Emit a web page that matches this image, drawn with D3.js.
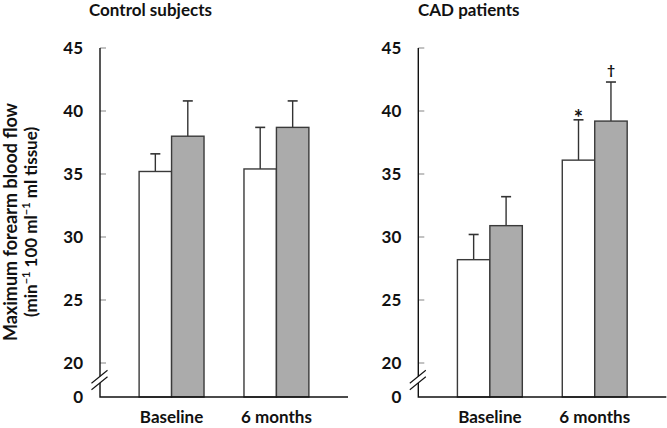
<!DOCTYPE html>
<html><head><meta charset="utf-8">
<script src="https://cdn.jsdelivr.net/npm/d3@7"></script>
<style>
body{margin:0;background:#fff;}
svg text{font-family:Lato,"Open Sans",sans-serif;font-weight:bold;fill:#111;}
</style></head>
<body><svg id="chart" width="667" height="428"></svg>
<script>
// ---- data ----
const panels = ["Control subjects", "CAD patients"];
const categories = ["Baseline", "6 months"];
const series = ["open", "shaded"];
const yTicks = [20, 25, 30, 35, 40, 45];
// means [panel][category]
const openMean   = [[35.2, 35.4], [28.2, 36.1]];
const openErr    = [[1.4, 3.3],  [2.0, 3.2]];
const shadedMean = [[38.0, 38.7], [30.9, 39.2]];
const shadedErr  = [[2.8, 2.1],  [2.3, 3.1]];
// significance marks [panel][category]
const openMark   = [["", ""], ["", "*"]];
const shadedMark = [["", ""], ["", "†"]];

// ---- layout ----
const svg = d3.select("#chart");
const panelLeft = [100, 418.3];
const panelWidth = 248;
const y = d3.scaleLinear().domain([0, 20, 45]).range([397, 363, 48]);
const fills = {open: "#ffffff", shaded: "#ababab"};

panels.forEach((title, p) => {
  const x0 = panelLeft[p];
  const g = svg.append("g").attr("transform", `translate(${x0},0)`);
  const xBand = d3.scaleBand().domain(categories).range([0, panelWidth])
    .paddingInner(0.381).paddingOuter(0.373);
  const xSub = d3.scaleBand().domain(series).range([0, xBand.bandwidth()]);

  // title
  g.append("text").attr("x", 50.5).attr("y", 16)
    .attr("text-anchor", "middle").attr("font-size", 17).text(title);

  const rows = [];
  categories.forEach((c, i) => {
    rows.push({c, s: "open", v: openMean[p][i], e: openErr[p][i], m: openMark[p][i]});
    rows.push({c, s: "shaded", v: shadedMean[p][i], e: shadedErr[p][i], m: shadedMark[p][i]});
  });
  const bx = d => xBand(d.c) + xSub(d.s);
  const cx = d => bx(d) + xSub.bandwidth() / 2;

  // error bars
  g.selectAll(".err").data(rows).join("line")
    .attr("x1", cx).attr("x2", cx)
    .attr("y1", d => y(d.v)).attr("y2", d => y(d.v + d.e))
    .attr("stroke", "#333").attr("stroke-width", 1.4);
  g.selectAll(".cap").data(rows).join("line")
    .attr("x1", d => cx(d) - 5).attr("x2", d => cx(d) + 5)
    .attr("y1", d => y(d.v + d.e)).attr("y2", d => y(d.v + d.e))
    .attr("stroke", "#333").attr("stroke-width", 1.6);

  g.selectAll(".bar").data(rows).join("rect")
    .attr("x", bx).attr("width", xSub.bandwidth())
    .attr("y", d => y(d.v)).attr("height", d => y(0) - y(d.v))
    .attr("fill", d => fills[d.s]).attr("stroke", "#3a3a3a").attr("stroke-width", 1.4);

  // marks
  g.selectAll(".mark").data(rows.filter(d => d.m)).join("text")
    .attr("x", cx).attr("y", d => y(d.v + d.e) - (d.m === "*" ? -6 : 7))
    .attr("text-anchor", "middle").attr("font-size", d => d.m === "*" ? 22 : 14)
    .text(d => d.m);

  // y ticks
  g.selectAll(".tick").data(yTicks).join("line")
    .attr("x1", 0).attr("x2", 6).attr("y1", d => y(d)).attr("y2", d => y(d))
    .attr("stroke", "#999").attr("stroke-width", 1.2);
  g.selectAll(".tl").data(yTicks.concat([0])).join("text")
    .attr("x", -17).attr("y", d => y(d)).attr("dy", "0.36em")
    .attr("text-anchor", "end").attr("font-size", 17).text(d => d);

  // axes with break
  const yMid = (y(20) + y(0)) / 2;
  g.append("path")
    .attr("d", `M0,${y(45)}V${yMid - 3.5}M0,${yMid + 3}V${y(0)}H${panelWidth}`)
    .attr("fill", "none").attr("stroke", "#111").attr("stroke-width", 1.4);
  [-3.2, 3.2].forEach(o => {
    g.append("line")
      .attr("x1", -8.5).attr("y1", yMid + o + 6.5)
      .attr("x2", 7.5).attr("y2", yMid + o - 6.5)
      .attr("stroke", "#111").attr("stroke-width", 1.1);
  });

  // x labels
  g.selectAll(".xl").data(categories).join("text")
    .attr("x", d => xBand(d) + xBand.bandwidth() / 2).attr("y", 423)
    .attr("text-anchor", "middle").attr("font-size", 17).text(d => d);
});

// y-axis title
const yt = svg.append("g").attr("transform", "translate(0,222) rotate(-90)");
yt.append("text").attr("x", 0).attr("y", 17).attr("text-anchor", "middle")
  .attr("font-size", 18).text("Maximum forearm blood flow");
const t2 = yt.append("text").attr("x", 0).attr("y", 37).attr("text-anchor", "middle").attr("font-size", 17);
t2.append("tspan").text("(min");
t2.append("tspan").attr("font-size", 11).attr("dy", -7).text("−1");
t2.append("tspan").attr("dy", 7).text(" 100 ml");
t2.append("tspan").attr("font-size", 11).attr("dy", -7).text("−1");
t2.append("tspan").attr("dy", 7).text(" ml tissue)");
</script></body></html>
